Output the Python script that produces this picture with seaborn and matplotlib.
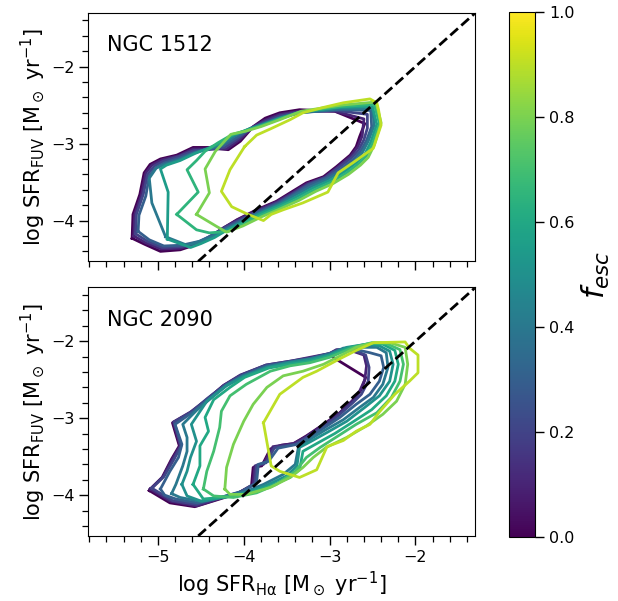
import matplotlib
matplotlib.use("Agg")
import matplotlib.pyplot as plt
import pandas as pd
import seaborn as sns
from matplotlib.ticker import MultipleLocator
from matplotlib.colors import Normalize
from matplotlib.cm import ScalarMappable

# ---------------- data: contour outlines (log SFR_Halpha, log SFR_FUV) ----------------
# NGC 1512
n1512_levels = [0.0, 0.1, 0.2, 0.3, 0.4, 0.55, 0.65, 0.8, 0.9]

n1512_f0_x = [-5.30, -5.29, -5.21, -5.16, -5.09, -4.97, -4.78, -4.59, -4.39, -4.18, -4.04, -3.89, -3.75, -3.58, -3.35, -2.94, -2.59, -2.65, -2.69, -2.76, -2.92, -3.07, -3.27, -3.46, -3.62, -3.85, -4.08, -4.24, -4.39, -4.55, -4.74, -4.97, -5.15]
n1512_f0_y = [-4.23, -3.92, -3.66, -3.38, -3.27, -3.20, -3.15, -3.05, -3.05, -3.08, -2.97, -2.78, -2.67, -2.60, -2.56, -2.58, -2.74, -2.91, -3.04, -3.15, -3.30, -3.43, -3.51, -3.64, -3.75, -3.86, -3.99, -4.10, -4.21, -4.31, -4.38, -4.40, -4.31]

n1512_f1_x = [-5.28, -5.27, -5.19, -5.14, -5.07, -4.95, -4.76, -4.59, -4.40, -4.20, -4.05, -3.90, -3.76, -3.58, -3.35, -2.94, -2.60, -2.62, -2.67, -2.75, -2.90, -3.06, -3.26, -3.45, -3.62, -3.85, -4.07, -4.23, -4.38, -4.53, -4.74, -4.96, -5.14]
n1512_f1_y = [-4.20, -3.92, -3.66, -3.38, -3.28, -3.21, -3.16, -3.07, -3.07, -3.07, -2.95, -2.79, -2.70, -2.62, -2.58, -2.58, -2.68, -2.90, -3.04, -3.16, -3.30, -3.44, -3.52, -3.65, -3.76, -3.87, -3.99, -4.09, -4.20, -4.30, -4.36, -4.37, -4.29]

n1512_f2_x = [-5.26, -5.25, -5.17, -5.12, -5.04, -4.94, -4.76, -4.58, -4.42, -4.22, -4.06, -3.92, -3.76, -3.58, -3.35, -2.93, -2.56, -2.56, -2.60, -2.66, -2.74, -2.88, -3.05, -3.25, -3.44, -3.61, -3.84, -4.06, -4.22, -4.37, -4.52, -4.73, -4.95, -5.12]
n1512_f2_y = [-4.17, -3.92, -3.66, -3.40, -3.29, -3.23, -3.17, -3.09, -3.08, -3.05, -2.93, -2.80, -2.72, -2.64, -2.59, -2.57, -2.62, -2.80, -2.95, -3.08, -3.18, -3.30, -3.44, -3.53, -3.66, -3.77, -3.88, -4.00, -4.09, -4.19, -4.28, -4.34, -4.35, -4.27]

n1512_f3_x = [-5.23, -5.22, -5.14, -5.10, -5.02, -4.92, -4.75, -4.57, -4.44, -4.24, -4.08, -3.93, -3.77, -3.58, -3.35, -2.90, -2.52, -2.51, -2.57, -2.64, -2.72, -2.86, -3.04, -3.24, -3.43, -3.60, -3.83, -4.05, -4.21, -4.36, -4.52, -4.72, -4.93, -5.10]
n1512_f3_y = [-4.14, -3.93, -3.68, -3.42, -3.31, -3.25, -3.19, -3.11, -3.08, -3.03, -2.92, -2.81, -2.74, -2.66, -2.60, -2.56, -2.57, -2.78, -2.96, -3.10, -3.20, -3.32, -3.45, -3.54, -3.67, -3.78, -3.89, -4.01, -4.10, -4.19, -4.27, -4.32, -4.33, -4.25]

n1512_f4_x = [-4.91, -5.07, -5.10, -5.02, -4.92, -4.75, -4.57, -4.45, -4.26, -4.10, -3.94, -3.78, -3.58, -3.35, -2.88, -2.50, -2.48, -2.55, -2.62, -2.70, -2.84, -3.02, -3.22, -3.42, -3.59, -3.82, -4.04, -4.20, -4.35, -4.51, -4.66]
n1512_f4_y = [-4.21, -3.77, -3.45, -3.32, -3.27, -3.21, -3.12, -3.08, -3.02, -2.90, -2.81, -2.75, -2.67, -2.60, -2.55, -2.55, -2.76, -2.97, -3.12, -3.22, -3.34, -3.46, -3.56, -3.68, -3.79, -3.90, -4.02, -4.11, -4.20, -4.27, -4.32]

n1512_f5_x = [-4.89, -4.88, -4.97, -4.90, -4.74, -4.57, -4.46, -4.28, -4.12, -3.96, -3.79, -3.58, -3.34, -2.88, -2.50, -2.45, -2.52, -2.59, -2.68, -2.82, -3.00, -3.20, -3.40, -3.58, -3.81, -4.03, -4.19, -4.34, -4.50, -4.62]
n1512_f5_y = [-4.24, -3.63, -3.33, -3.28, -3.22, -3.13, -3.08, -3.00, -2.89, -2.82, -2.76, -2.67, -2.59, -2.53, -2.52, -2.75, -2.98, -3.14, -3.24, -3.36, -3.48, -3.58, -3.70, -3.80, -3.91, -4.03, -4.12, -4.22, -4.30, -4.35]

n1512_f6_x = [-4.78, -4.53, -4.66, -4.55, -4.45, -4.30, -4.13, -3.97, -3.80, -3.58, -3.34, -2.87, -2.48, -2.42, -2.50, -2.57, -2.66, -2.80, -2.98, -3.18, -3.38, -3.57, -3.80, -4.02, -4.18, -4.40, -4.55]
n1512_f6_y = [-3.92, -3.63, -3.34, -3.22, -3.10, -2.99, -2.88, -2.83, -2.77, -2.68, -2.59, -2.52, -2.49, -2.74, -3.00, -3.16, -3.26, -3.38, -3.50, -3.60, -3.72, -3.82, -3.93, -4.05, -4.14, -4.16, -4.12]

n1512_f7_x = [-4.55, -4.40, -4.45, -4.33, -4.15, -3.98, -3.80, -3.58, -3.33, -2.86, -2.46, -2.40, -2.48, -2.55, -2.64, -2.78, -2.96, -3.16, -3.36, -3.56, -3.79, -4.01, -4.20, -4.31]
n1512_f7_y = [-3.92, -3.64, -3.33, -3.10, -2.88, -2.84, -2.78, -2.69, -2.58, -2.50, -2.46, -2.73, -3.02, -3.18, -3.28, -3.40, -3.52, -3.62, -3.74, -3.84, -3.95, -4.07, -4.15, -4.08]

n1512_f8_x = [-3.99, -4.16, -4.26, -4.14, -3.95, -3.77, -3.68, -3.54, -3.31, -3.02, -2.90, -2.73, -2.49, -2.40, -2.43, -2.45, -2.53, -2.84, -3.07, -3.31, -3.46, -3.69, -3.85]
n1512_f8_y = [-3.04, -3.34, -3.62, -3.82, -3.92, -4.00, -3.92, -3.86, -3.77, -3.63, -3.38, -3.25, -3.06, -2.76, -2.56, -2.47, -2.42, -2.47, -2.53, -2.60, -2.69, -2.81, -2.89]

# NGC 2090
n2090_levels = [0.0, 0.1, 0.2, 0.3, 0.4, 0.5, 0.6, 0.7, 0.8, 0.9]

n2090_f0_x = [-5.10, -4.95, -4.84, -4.75, -4.83, -4.62, -4.43, -4.24, -4.04, -3.75, -3.46, -3.23, -3.00, -2.90, -2.58, -2.63, -2.72, -2.88, -3.07, -3.27, -3.42, -3.56, -3.69, -3.79, -3.89, -3.91, -4.08, -4.28, -4.57, -4.86]
n2090_f0_y = [-3.94, -3.77, -3.53, -3.36, -3.06, -2.93, -2.76, -2.58, -2.45, -2.32, -2.27, -2.22, -2.18, -2.25, -2.47, -2.63, -2.76, -2.93, -3.08, -3.23, -3.33, -3.35, -3.40, -3.62, -3.64, -3.88, -3.98, -4.05, -4.15, -4.10]

n2090_f1_x = [-5.09, -4.94, -4.83, -4.74, -4.82, -4.62, -4.42, -4.23, -4.04, -3.74, -3.46, -3.23, -3.00, -2.92, -2.73, -2.60, -2.57, -2.59, -2.65, -2.74, -2.90, -3.09, -3.27, -3.42, -3.66, -3.77, -3.87, -3.89, -4.06, -4.27, -4.55, -4.85]
n2090_f1_y = [-3.92, -3.76, -3.53, -3.36, -3.05, -2.92, -2.75, -2.57, -2.44, -2.31, -2.26, -2.21, -2.16, -2.11, -2.13, -2.18, -2.32, -2.50, -2.65, -2.78, -2.95, -3.10, -3.24, -3.33, -3.37, -3.60, -3.62, -3.86, -3.97, -4.04, -4.14, -4.08]

n2090_f2_x = [-5.07, -4.93, -4.81, -4.73, -4.81, -4.61, -4.42, -4.22, -4.03, -3.74, -3.46, -3.23, -3.00, -2.90, -2.71, -2.58, -2.54, -2.55, -2.63, -2.73, -2.89, -3.08, -3.27, -3.40, -3.64, -3.74, -3.85, -3.87, -4.04, -4.26, -4.55, -4.83]
n2090_f2_y = [-3.91, -3.76, -3.53, -3.36, -3.05, -2.92, -2.74, -2.57, -2.44, -2.31, -2.26, -2.22, -2.16, -2.11, -2.12, -2.18, -2.34, -2.52, -2.69, -2.80, -2.96, -3.12, -3.25, -3.34, -3.38, -3.58, -3.61, -3.85, -3.96, -4.03, -4.12, -4.07]

n2090_f3_x = [-4.97, -4.86, -4.76, -4.72, -4.80, -4.59, -4.40, -4.21, -4.02, -3.73, -3.46, -3.23, -3.00, -2.88, -2.69, -2.53, -2.40, -2.37, -2.42, -2.53, -2.69, -2.88, -3.07, -3.26, -3.38, -3.60, -3.71, -3.83, -3.85, -4.02, -4.24, -4.54, -4.79, -4.92]
n2090_f3_y = [-3.92, -3.69, -3.51, -3.34, -3.08, -2.92, -2.74, -2.57, -2.45, -2.32, -2.27, -2.23, -2.16, -2.11, -2.11, -2.15, -2.19, -2.34, -2.52, -2.69, -2.82, -2.99, -3.13, -3.27, -3.34, -3.39, -3.56, -3.60, -3.84, -3.95, -4.02, -4.10, -4.05, -4.00]

n2090_f4_x = [-4.84, -4.79, -4.71, -4.66, -4.66, -4.71, -4.55, -4.37, -4.20, -4.00, -3.72, -3.46, -3.23, -3.00, -2.84, -2.65, -2.45, -2.34, -2.32, -2.38, -2.49, -2.65, -2.84, -3.06, -3.25, -3.36, -3.40, -3.54, -3.77, -3.97, -4.20, -4.51, -4.74]
n2090_f4_y = [-3.98, -3.86, -3.62, -3.43, -3.25, -3.08, -2.90, -2.73, -2.57, -2.45, -2.33, -2.27, -2.23, -2.17, -2.09, -2.08, -2.08, -2.15, -2.34, -2.56, -2.73, -2.86, -3.02, -3.16, -3.29, -3.36, -3.60, -3.73, -3.86, -3.95, -4.01, -4.08, -4.03]

n2090_f5_x = [-4.72, -4.66, -4.62, -4.55, -4.61, -4.43, -4.20, -4.00, -3.72, -3.46, -3.23, -3.00, -2.80, -2.57, -2.42, -2.30, -2.26, -2.30, -2.42, -2.59, -2.80, -3.02, -3.23, -3.35, -3.38, -3.50, -3.73, -3.95, -4.19, -4.49, -4.66]
n2090_f5_y = [-3.86, -3.69, -3.51, -3.30, -3.08, -2.78, -2.58, -2.46, -2.34, -2.28, -2.24, -2.18, -2.08, -2.04, -2.06, -2.13, -2.30, -2.52, -2.71, -2.86, -3.04, -3.18, -3.31, -3.38, -3.62, -3.75, -3.87, -3.96, -4.02, -4.08, -4.01]

n2090_f6_x = [-4.59, -4.51, -4.51, -4.41, -4.45, -4.35, -4.16, -3.99, -3.71, -3.46, -3.23, -3.00, -2.76, -2.53, -2.38, -2.24, -2.20, -2.24, -2.34, -2.51, -2.73, -2.94, -3.15, -3.31, -3.35, -3.46, -3.69, -3.93, -4.18, -4.47]
n2090_f6_y = [-3.86, -3.62, -3.36, -3.17, -2.99, -2.76, -2.60, -2.47, -2.35, -2.30, -2.26, -2.19, -2.08, -2.03, -2.04, -2.12, -2.30, -2.52, -2.71, -2.89, -3.05, -3.20, -3.33, -3.43, -3.67, -3.77, -3.88, -3.97, -4.02, -4.05]

n2090_f7_x = [-4.47, -4.43, -4.35, -4.28, -4.26, -4.16, -3.97, -3.69, -3.46, -3.23, -3.00, -2.72, -2.51, -2.34, -2.18, -2.14, -2.18, -2.28, -2.45, -2.69, -2.90, -3.11, -3.27, -3.40, -3.62, -3.85, -4.12, -4.35]
n2090_f7_y = [-3.92, -3.69, -3.43, -3.12, -2.91, -2.71, -2.56, -2.39, -2.32, -2.28, -2.21, -2.08, -2.02, -2.03, -2.11, -2.30, -2.52, -2.73, -2.93, -3.08, -3.23, -3.38, -3.51, -3.69, -3.86, -3.97, -4.03, -4.01]

n2090_f8_x = [-4.22, -4.20, -4.12, -4.00, -3.89, -3.73, -3.54, -3.31, -3.07, -2.84, -2.69, -2.49, -2.30, -2.12, -2.09, -2.12, -2.22, -2.38, -2.57, -2.80, -3.04, -3.19, -3.31, -3.46, -3.69, -3.97, -4.16]
n2090_f8_y = [-3.92, -3.64, -3.34, -3.04, -2.82, -2.60, -2.45, -2.39, -2.30, -2.17, -2.08, -2.02, -2.02, -2.08, -2.30, -2.56, -2.78, -2.95, -3.10, -3.25, -3.38, -3.51, -3.64, -3.77, -3.90, -3.99, -3.99]

n2090_f9_x = [-3.77, -3.58, -3.31, -3.15, -2.90, -2.69, -2.49, -2.12, -2.07, -1.97, -1.97, -2.07, -2.24, -2.42, -2.53, -2.69, -2.84, -3.03, -3.15, -3.35, -3.58, -3.68]
n2090_f9_y = [-3.06, -2.69, -2.47, -2.39, -2.24, -2.12, -2.02, -2.01, -2.09, -2.18, -2.41, -2.52, -2.69, -2.92, -3.08, -3.17, -3.29, -3.37, -3.67, -3.77, -3.69, -3.62]

panel_names = ["NGC 1512", "NGC 2090"]
fesc_ticks = [0.0, 0.2, 0.4, 0.6, 0.8, 1.0]
one_to_one_intercept = 0.0
one_to_one_slope = 1.0

n1512_contours = [(n1512_f0_x, n1512_f0_y), (n1512_f1_x, n1512_f1_y), (n1512_f2_x, n1512_f2_y),
                  (n1512_f3_x, n1512_f3_y), (n1512_f4_x, n1512_f4_y), (n1512_f5_x, n1512_f5_y),
                  (n1512_f6_x, n1512_f6_y), (n1512_f7_x, n1512_f7_y), (n1512_f8_x, n1512_f8_y)]
n2090_contours = [(n2090_f0_x, n2090_f0_y), (n2090_f1_x, n2090_f1_y), (n2090_f2_x, n2090_f2_y),
                  (n2090_f3_x, n2090_f3_y), (n2090_f4_x, n2090_f4_y), (n2090_f5_x, n2090_f5_y),
                  (n2090_f6_x, n2090_f6_y), (n2090_f7_x, n2090_f7_y), (n2090_f8_x, n2090_f8_y),
                  (n2090_f9_x, n2090_f9_y)]


def build_frame(contours, levels):
    rows = []
    for cid, ((xs, ys), lev) in enumerate(zip(contours, levels)):
        xs = list(xs) + [xs[0]]
        ys = list(ys) + [ys[0]]
        for x, y in zip(xs, ys):
            rows.append({"x": x, "y": y, "fesc": lev, "cid": cid})
    return pd.DataFrame(rows)


frames = [build_frame(n1512_contours, n1512_levels),
          build_frame(n2090_contours, n2090_levels)]

fig = plt.figure(figsize=(6.18, 6.01), dpi=100)
ax_top = fig.add_axes([0.1429, 0.5651, 0.6252, 0.4138])
ax_bot = fig.add_axes([0.1429, 0.1082, 0.6252, 0.4138], sharex=ax_top)
cax = fig.add_axes([0.8236, 0.1065, 0.0421, 0.8735])

ylabel = r"log SFR$_{\rm FUV}$ [M$_\odot$ yr$^{-1}$]"
xlabel = r"log SFR$_{\rm Hα}$ [M$_\odot$ yr$^{-1}$]"

for ax, df, name in zip([ax_top, ax_bot], frames, panel_names):
    sns.lineplot(data=df, x="x", y="y", hue="fesc", units="cid", estimator=None,
                 sort=False, palette="viridis", hue_norm=(0, 1), legend=False,
                 linewidth=2.0, ax=ax)
    ax.axline((0.0, one_to_one_intercept), slope=one_to_one_slope, color="black",
              ls="--", lw=2.0, zorder=5)
    ax.set_xlim(-5.81, -1.31)
    ax.set_ylim(-4.53, -1.30)
    ax.xaxis.set_major_locator(MultipleLocator(1))
    ax.xaxis.set_minor_locator(MultipleLocator(0.2))
    ax.yaxis.set_major_locator(MultipleLocator(1))
    ax.yaxis.set_minor_locator(MultipleLocator(0.2))
    ax.tick_params(which="major", length=6.5, width=1.0, labelsize=11.5)
    ax.tick_params(which="minor", length=4.0, width=0.9)
    ax.set_ylabel(ylabel, fontsize=15, labelpad=3)
    ax.text(0.048, 0.87, name, transform=ax.transAxes, fontsize=15, va="center", ha="left")

ax_top.tick_params(labelbottom=False)
ax_top.set_xlabel("")
ax_bot.set_xlabel(xlabel, fontsize=15, labelpad=3)

sm = ScalarMappable(norm=Normalize(0, 1), cmap="viridis")
cb = fig.colorbar(sm, cax=cax)
cb.set_ticks(fesc_ticks)
cb.ax.tick_params(labelsize=11.5, length=6.5, width=1.0)
cb.set_label(r"$f_{esc}$", fontsize=22, labelpad=4)

fig.savefig("out.png", dpi=100)
